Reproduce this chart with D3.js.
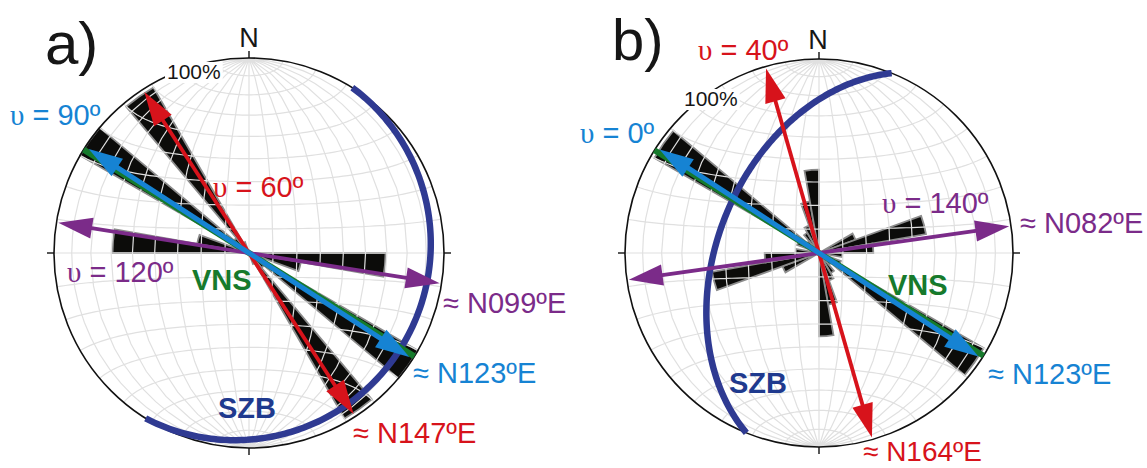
<!DOCTYPE html>
<html>
<head>
<meta charset="utf-8">
<script src="https://cdn.jsdelivr.net/npm/d3@7"></script>
<style>
  body { margin: 0; background: #fff; }
  svg { display: block; }
  text { font-family: "Liberation Sans", Arial, sans-serif; }
  .ups { font-family: "Liberation Serif", "Times New Roman", serif; }
</style>
</head>
<body>
<svg id="chart" width="1147" height="468"></svg>
<script>
// rose bins: start azimuth of each 10 deg sector, and length in % of the max
var binsA = [90, 100, 110, 120, 130, 140, 150, 270, 280, 290, 300, 310, 320, 330];
var freqA = [70, 27,  8,   100, 10,  98,  6,   70,  27,  8,   100, 10,  98,  6];

var binsB = [320, 330, 340, 350, 60, 70, 80, 90, 110, 120, 130,
             140, 150, 160, 170, 240, 250, 260, 270, 290, 300, 310];
var freqB = [12,  15,  27,  43,  20, 56, 28, 12, 12,  98,  8,
             12,  15,  27,  43,  20,  56,  28,  12,  12,  98,  8];

// arrows: purple, red, blue (trend in deg, tip in fraction of radius)
var arrowAzA  = [99, 147, 123];
var arrowTipA = [0.99, 0.985, 0.98];
var arrowAzB  = [82, 164, 123];
var arrowTipB = [0.99, 0.99, 0.98];

// VNS trend and SZB plane (dip direction, dip)
var vnsA = 122, vnsB = 122;
var planeA = [122, 9];
var planeB = [292, 47];

var textA = ["a)", "N", "100%", "υ = 90º", "υ = 60º", "υ = 120º", "VNS", "SZB",
             "≈ N099ºE", "≈ N123ºE", "≈ N147ºE"];
var textB = ["b)", "N", "100%", "υ = 0º", "υ = 40º", "υ = 140º", "VNS", "SZB",
             "≈ N082ºE", "≈ N123ºE", "≈ N164ºE"];

var RED = "#d7131b", BLUE = "#1683d3", PURPLE = "#7b2b89", GREEN = "#167a2c",
    NAVY = "#2f3a92", NAVYTXT = "#1f3a8e", INK = "#161616";
var arrowColors = [PURPLE, RED, BLUE];
var arrowWidths = [3.8, 3.8, 5];

// where the labels go (x, y, size, colour, bold, anchor)
var layoutA = [
  [45, 64, 60, INK, 0, "start"], [249, 47, 27, INK, 0, "middle"], [167, 79, 21, INK, 0, "start"],
  [10, 125, 29, BLUE, 0, "start"], [213, 197, 29, RED, 0, "start"], [67, 282, 29, PURPLE, 0, "start"],
  [192, 290, 29, GREEN, 1, "start"], [218, 418, 29, NAVYTXT, 1, "start"],
  [443, 313, 29, PURPLE, 0, "start"], [413, 383, 29, BLUE, 0, "start"], [353, 443, 29, RED, 0, "start"]
];
var layoutB = [
  [612, 60, 58, INK, 0, "start"], [818, 49, 27, INK, 0, "middle"], [684, 106, 21, INK, 0, "start"],
  [580, 143, 29, BLUE, 0, "start"], [698, 60, 29, RED, 0, "start"], [882, 213, 29, PURPLE, 0, "start"],
  [888, 295, 29, GREEN, 1, "start"], [729, 393, 29, NAVYTXT, 1, "start"],
  [1020, 233, 29, PURPLE, 0, "start"], [988, 384, 29, BLUE, 0, "start"], [863, 461, 28, RED, 0, "start"]
];

var panels = [
  {cx: 249, cy: 253, R: 195, bins: binsA, freq: freqA, az: arrowAzA, tip: arrowTipA,
   vns: vnsA, plane: planeA, text: textA, layout: layoutA},
  {cx: 819, cy: 253, R: 194, bins: binsB, freq: freqB, az: arrowAzB, tip: arrowTipB,
   vns: vnsB, plane: planeB, text: textB, layout: layoutB}
];

var svg = d3.select("#chart");
svg.append("rect").attr("width", 1147).attr("height", 468).attr("fill", "#fff");

var rad = Math.PI / 180;

// trend/plunge (lower hemisphere) -> lon/lat of the equatorial Schmidt net
function toLonLat(trend, plunge) {
  var t = trend * rad, p = plunge * rad;
  var n = Math.cos(p) * Math.cos(t), e = Math.cos(p) * Math.sin(t), d = Math.sin(p);
  return [Math.atan2(e, d) / rad, Math.asin(n) / rad];
}

panels.forEach(drawPanel);

function drawPanel(p) {
  var g = svg.append("g").attr("transform", "translate(" + p.cx + "," + p.cy + ")");
  var r = d3.scaleLinear().domain([0, 100]).range([0, p.R]);

  var proj = d3.geoAzimuthalEqualArea()
      .rotate([0, 0])
      .scale(p.R / Math.SQRT2)
      .translate([0, 0])
      .clipAngle(90);
  var path = d3.geoPath(proj);

  // petals
  var arc = d3.arc().innerRadius(0);
  g.append("g").selectAll("path")
      .data(p.bins)
      .enter().append("path")
      .attr("d", function(d, i) {
        return arc({outerRadius: r(p.freq[i]), startAngle: d * rad, endAngle: (d + 10) * rad});
      })
      .attr("fill", "#0c0c0a")
      .attr("stroke", "#8c8c8c")
      .attr("stroke-width", 1.8)
      .attr("stroke-linejoin", "miter");

  // Schmidt net
  var grat = d3.geoGraticule().extent([[-180, -90], [180, 90]]).step([10, 10]);
  g.append("path")
      .attr("d", path(grat()))
      .attr("fill", "none")
      .attr("stroke", "#e0e0e0")
      .attr("stroke-width", 1.2);

  // primitive
  g.append("circle").attr("r", p.R).attr("fill", "none")
      .attr("stroke", "#111").attr("stroke-width", 1.6);
  g.selectAll("line.tick")
      .data([0, 90, 180, 270])
      .enter().append("line")
      .attr("class", "tick")
      .attr("x1", function(d) { return d3.pointRadial(d * rad, p.R)[0]; })
      .attr("y1", function(d) { return d3.pointRadial(d * rad, p.R)[1]; })
      .attr("x2", function(d) { return d3.pointRadial(d * rad, p.R + 7)[0]; })
      .attr("y2", function(d) { return d3.pointRadial(d * rad, p.R + 7)[1]; })
      .attr("stroke", "#111").attr("stroke-width", 1.4);

  // SZB great circle
  var pole = toLonLat(p.plane[0] + 180, 90 - p.plane[1]);
  var ring = d3.geoCircle().center(pole).radius(90).precision(1)().coordinates[0];
  g.append("path")
      .attr("d", path({type: "LineString", coordinates: ring}))
      .attr("fill", "none")
      .attr("stroke", NAVY)
      .attr("stroke-width", 6.5);

  // VNS line
  var v = p.vns * rad;
  g.append("line")
      .attr("x1", d3.pointRadial(v, p.R)[0]).attr("y1", d3.pointRadial(v, p.R)[1])
      .attr("x2", d3.pointRadial(v + Math.PI, p.R)[0]).attr("y2", d3.pointRadial(v + Math.PI, p.R)[1])
      .attr("stroke", GREEN).attr("stroke-width", 6);

  // double-headed arrows
  p.az.forEach(function(az, i) {
    drawArrow(g, az * rad, p.tip[i] * p.R, arrowColors[i], arrowWidths[i]);
  });

  // labels
  p.text.forEach(function(t, i) {
    var L = p.layout[i];
    var txt = svg.append("text")
        .attr("x", L[0]).attr("y", L[1])
        .attr("font-size", L[2])
        .attr("fill", L[3])
        .attr("font-weight", L[4] ? "bold" : "normal")
        .attr("text-anchor", L[5]);
    if (t.charAt(0) === "υ") {
      txt.append("tspan").attr("class", "ups").text("υ");
      txt.append("tspan").text(t.slice(1));
    } else {
      txt.text(t);
    }
    if (t === "100%") {
      var b = txt.node().getBBox();
      svg.insert("rect", function() { return txt.node(); })
          .attr("x", b.x - 2).attr("y", b.y + 2)
          .attr("width", b.width + 4).attr("height", b.height - 2)
          .attr("fill", "#fff");
    }
  });
}

function drawArrow(g, a, rTip, color, w) {
  var L = 34, W = 21;
  var s0 = d3.pointRadial(a, rTip - L + 2), s1 = d3.pointRadial(a + Math.PI, rTip - L + 2);
  g.append("line")
      .attr("x1", s0[0]).attr("y1", s0[1]).attr("x2", s1[0]).attr("y2", s1[1])
      .attr("stroke", color).attr("stroke-width", w);
  [a, a + Math.PI].forEach(function(e) {
    var tip = d3.pointRadial(e, rTip);
    var base = d3.pointRadial(e, rTip - L);
    var off = d3.pointRadial(e + Math.PI / 2, W / 2);
    g.append("path")
        .attr("d", "M" + tip + "L" + [base[0] + off[0], base[1] + off[1]] +
                   "L" + [base[0] - off[0], base[1] - off[1]] + "Z")
        .attr("fill", color);
  });
}
</script>
</body>
</html>
